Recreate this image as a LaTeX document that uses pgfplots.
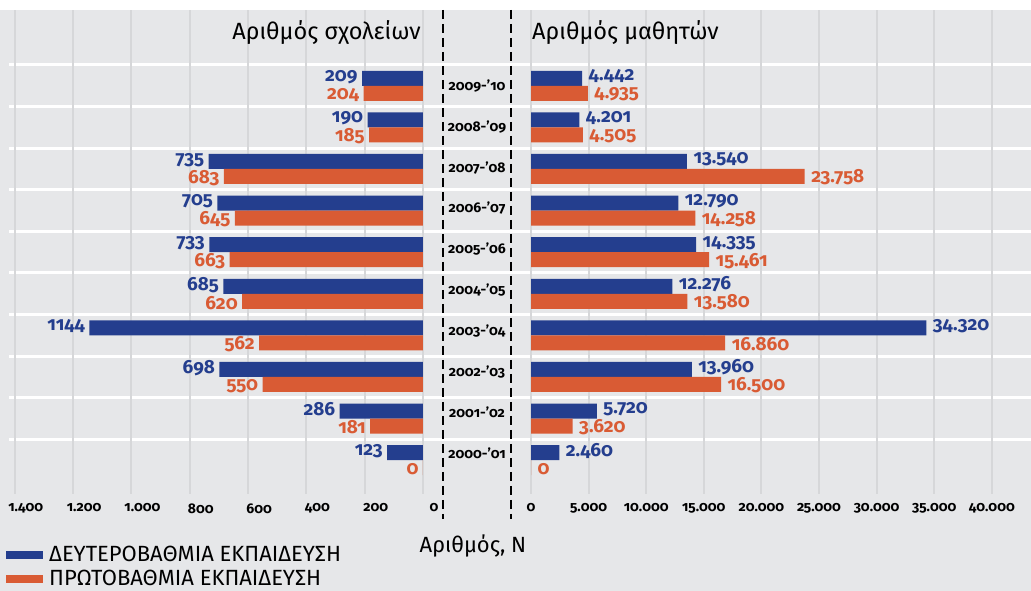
\documentclass[border=0pt]{standalone}
\usepackage{pgfplots}
\pgfplotsset{compat=1.18}
\usepackage{pgfplotstable}
\usepackage{fontspec}
\setmainfont{Fira Sans}[Numbers=OldStyle]
\definecolor{bgc}{RGB}{230,231,233}
\definecolor{gridc}{RGB}{214,215,217}
\definecolor{bblue}{RGB}{36,62,142}
\definecolor{bor}{RGB}{217,91,52}

\pgfplotstableread{
y sec pri
0 123 0
1 286 181
2 698 550
3 1144 562
4 685 620
5 733 663
6 705 645
7 735 683
8 190 185
9 209 204
}\schools

\pgfplotstableread{
y sec pri
0 2460 0
1 5720 3620
2 13960 16500
3 34320 16860
4 12276 13580
5 14335 15461
6 12790 14258
7 13540 23758
8 4201 4505
9 4442 4935
}\students

\pgfplotstableread{
x y lab
477 0.17 2000-'01
477 1.15 2001-'02
477 2.13 2002-'03
477 3.11 2003-'04
477 4.09 2004-'05
477 5.07 2005-'06
477 6.05 2006-'07
477 7.03 2007-'08
477 8.01 2008-'09
477 9.00 2009-'10
}\years

\tikzset{vlab/.style={font=\bfseries\fontsize{19}{19}\selectfont}}
\pgfplotsset{
  common/.style={
    anchor=south west, scale only axis, height=484pt,
    ymin=-0.8125, ymax=10.822,
    axis line style={draw=none}, tick style={draw=none},
    ytick=\empty,
    xmajorgrids, major grid style={gridc, line width=2pt},
    scaled x ticks=false,
    /pgf/number format/assume math mode=true,
    /pgf/number format/1000 sep={.},
    xticklabel style={font=\bfseries\fontsize{14}{14}\selectfont, yshift=-6pt},
    xbar, bar width=15pt,
  },
}

\begin{document}
\begin{tikzpicture}[x=1pt,y=1pt]
\useasboundingbox (0,0) rectangle (1031,591);
\fill[bgc] (0,0) rectangle (1031,581);

% background: white row separators and year labels
\begin{axis}[at={(9pt,97pt)}, anchor=south west, scale only axis, width=1022pt, height=484pt,
  xmin=9, xmax=1031, ymin=-0.8125, ymax=10.822,
  axis line style={draw=none}, tick style={draw=none},
  xtick=\empty, ytick={0.5,1.5,...,9.5}, yticklabels={},
  ymajorgrids, major grid style={white, line width=3pt}]
\addplot[draw=none, mark=none, nodes near coords, point meta=explicit symbolic,
  every node near coord/.append style={anchor=center, font=\bfseries\fontsize{14}{14}\selectfont}]
  table[x=x, y=y, meta=lab] {\years};
\end{axis}

% left: number of schools
\begin{axis}[common, at={(9pt,97pt)}, width=414pt,
  x dir=reverse, xmin=0, xmax=1420, xtick={0,200,...,1400},
  xticklabel style={xshift=11pt},
  legend style={at={(-0.0072,-0.104)}, anchor=north west, draw=none, fill=none,
    inner sep=0pt, row sep=3pt, font=\fontsize{22}{22}\selectfont,
    /tikz/every odd column/.append style={column sep=4pt}},
  legend cell align=left,
  legend image code/.code={\fill[#1] (0pt,-4pt) rectangle (37pt,4pt);}]
\addplot[fill=bblue, draw=none, bar shift=7.5pt,
  nodes near coords={\pgfmathprintnumber[1000 sep={}]{\pgfplotspointmeta}}, point meta=x,
  every node near coord/.append style={anchor=east, xshift=-1pt, yshift=1.5pt, text=bblue, vlab}]
  table[x=sec, y=y] {\schools};
\addlegendentry{ΔΕΥΤΕΡΟΒΑΘΜΙΑ ΕΚΠΑΙΔΕΥΣΗ}
\addplot[fill=bor, draw=none, bar shift=-7.5pt,
  nodes near coords={\pgfmathprintnumber[1000 sep={}]{\pgfplotspointmeta}}, point meta=x,
  every node near coord/.append style={anchor=east, xshift=-1pt, yshift=-1.5pt, text=bor, vlab}]
  table[x=pri, y=y] {\schools};
\addlegendentry{ΠΡΩΤΟΒΑΘΜΙΑ ΕΚΠΑΙΔΕΥΣΗ}
\end{axis}

% right: number of students
\begin{axis}[common, at={(531pt,97pt)}, width=500pt,
  xmin=0, xmax=43400, xtick={0,5000,...,40000}]
\addplot[fill=bblue, draw=none, bar shift=7.5pt,
  nodes near coords={\pgfmathprintnumber[1000 sep={.}]{\pgfplotspointmeta}}, point meta=x,
  every node near coord/.append style={anchor=west, xshift=3pt, yshift=2pt, text=bblue, vlab}]
  table[x=sec, y=y] {\students};
\addplot[fill=bor, draw=none, bar shift=-7.5pt,
  nodes near coords={\pgfmathprintnumber[1000 sep={.}]{\pgfplotspointmeta}}, point meta=x,
  every node near coord/.append style={anchor=west, xshift=3pt, yshift=-1pt, text=bor, vlab}]
  table[x=pri, y=y] {\students};
\end{axis}

% dashed separators
\draw[line width=2.5pt, dash pattern=on 9pt off 5pt] (443,581) -- (443,72);
\draw[line width=2.5pt, dash pattern=on 9pt off 5pt] (511,581) -- (511,72);

% titles
\node[anchor=east, inner sep=0pt, font=\fontsize{23.5}{23.5}\selectfont] at (421,558) {Αριθμός σχολείων};
\node[anchor=west, inner sep=0pt, font=\fontsize{23.5}{23.5}\selectfont] at (532,558) {Αριθμός μαθητών};
\node[inner sep=0pt, font=\fontsize{22}{22}\selectfont] at (473,45) {Αριθμός, N};
\end{tikzpicture}
\end{document}
